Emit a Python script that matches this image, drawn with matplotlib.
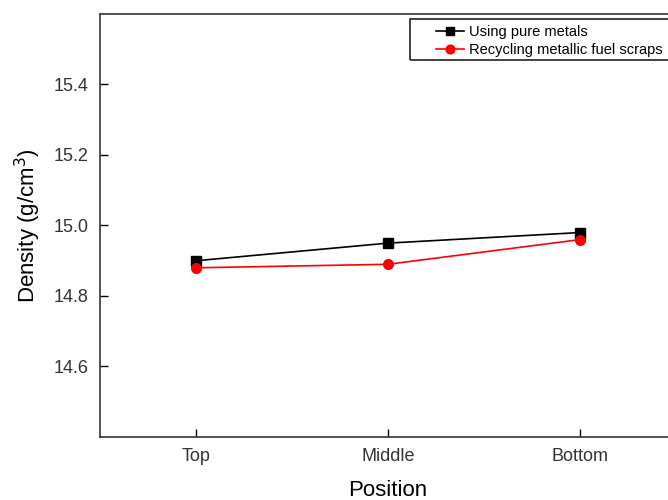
import matplotlib
matplotlib.use("Agg")
import matplotlib.pyplot as plt
from matplotlib.patches import Rectangle

positions = ["Top", "Middle", "Bottom"]
pure_metals = [14.90, 14.95, 14.98]
recycled = [14.88, 14.89, 14.96]
yticks = [14.6, 14.8, 15.0, 15.2, 15.4]

plt.rcParams['font.family'] = ['Liberation Sans', 'DejaVu Sans']

W, H = 668, 500
fig = plt.figure(figsize=(W/100, H/100), dpi=100)
ax = fig.add_axes([100/W, 1-437/H, 576/W, (437-14)/H])

x = list(range(len(positions)))
ax.plot(x, pure_metals, color='black', marker='s', markersize=6.5, lw=1.2,
        label='Using pure metals')
ax.plot(x, recycled, color='red', marker='o', markersize=7, lw=1.2,
        label='Recycling metallic fuel scraps')

ax.set_xlim(-0.5, 2.5)
ax.set_ylim(14.4, 15.6)
ax.set_xticks(x)
ax.set_xticklabels(positions)
ax.set_yticks(yticks)
ax.set_yticklabels([f"{v:.1f}" for v in yticks])
ax.tick_params(direction='in', length=6, width=1, labelsize=13, colors='black',
               labelcolor='#333333', pad=8)
ax.tick_params(axis='x', pad=8)
for s in ax.spines.values():
    s.set_linewidth(1.2)
    s.set_color('#333333')

ax.set_xlabel('Position', fontsize=16, labelpad=11)
ax.set_ylabel('Density (g/cm$^3$)', fontsize=16, labelpad=8)

leg = ax.legend(loc='upper left', bbox_to_anchor=(436/W, 1-25/H),
                bbox_transform=fig.transFigure, borderaxespad=0, borderpad=0,
                fontsize=10.5, frameon=False, labelspacing=0.3,
                handlelength=1.9, handletextpad=0.35, markerscale=0.9)

fig.patches.append(Rectangle((410/W, 1-60/H), 300/W, 41/H, transform=fig.transFigure,
                             fill=False, edgecolor='#222222', lw=1.2, figure=fig))

fig.savefig('out.png', dpi=100)
